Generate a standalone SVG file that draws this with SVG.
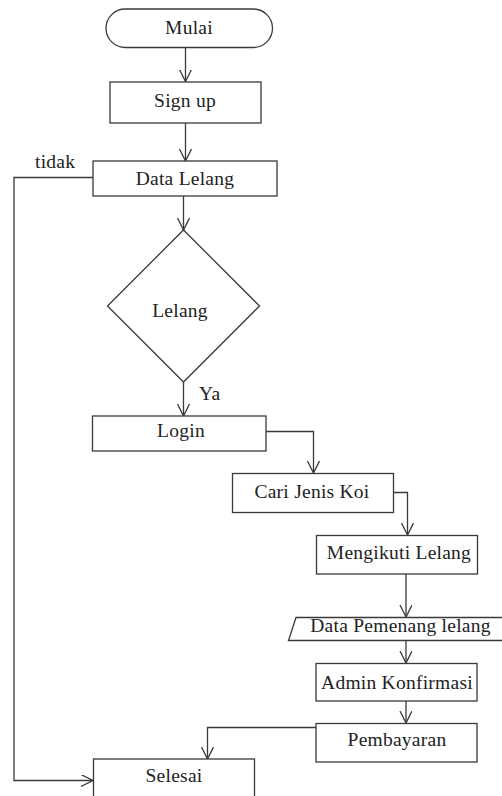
<svg xmlns="http://www.w3.org/2000/svg" width="502" height="796" viewBox="0 0 502 796">
<style>
.n{fill:#fff;stroke:#3a3a3a;stroke-width:1.3}
.t{font-family:"Liberation Serif","Times New Roman",serif;font-size:19.5px;letter-spacing:0.25px;fill:#222;text-anchor:middle}
.l{font-family:"Liberation Serif","Times New Roman",serif;font-size:19.5px;letter-spacing:0.25px;fill:#222}
.c{fill:none;stroke:#3a3a3a;stroke-width:1.3}
</style>
<defs>
<marker id="a" markerUnits="userSpaceOnUse" markerWidth="14" markerHeight="14" refX="12" refY="6" orient="auto">
<path d="M0,0 L12,6 L0,12" fill="none" stroke="#3a3a3a" stroke-width="1.3"/>
</marker>
</defs>
<rect width="502" height="796" fill="#fff"/>
<g id="connectors">
<path class="c" d="M185.5,48 V81.5" marker-end="url(#a)"/>
<path class="c" d="M185.5,123 V161" marker-end="url(#a)"/>
<path class="c" d="M183.5,196 V230" marker-end="url(#a)"/>
<path class="c" d="M183.5,382 V416" marker-end="url(#a)"/>
<path class="c" d="M266,431.5 H313.5 V473" marker-end="url(#a)"/>
<path class="c" d="M393,492.5 H407.5 V535" marker-end="url(#a)"/>
<path class="c" d="M406,574 V617" marker-end="url(#a)"/>
<path class="c" d="M406,640 V663" marker-end="url(#a)"/>
<path class="c" d="M406,701 V723" marker-end="url(#a)"/>
<path class="c" d="M316,727.5 H207.5 V759" marker-end="url(#a)"/>
<path class="c" d="M93,177.5 H14 V780.5 H93" marker-end="url(#a)"/>
</g>
<g id="mulai"><rect class="n" x="106" y="9" width="166.5" height="38.5" rx="19.25"/><text class="t" x="189" y="34">Mulai</text></g>
<g id="signup"><rect class="n" x="110" y="82" width="151" height="41"/><text class="t" x="185" y="107">Sign up</text></g>
<g id="datalelang"><rect class="n" x="93" y="161" width="184" height="35"/><text class="t" x="185" y="185">Data Lelang</text></g>
<g id="lelang"><polygon class="n" points="183.5,230 259.5,306 183.5,382 107.5,306"/><text class="t" x="180" y="317">Lelang</text></g>
<g id="login"><rect class="n" x="92.5" y="416" width="173.5" height="35"/><text class="t" x="181" y="437">Login</text></g>
<g id="cari"><rect class="n" x="232.5" y="473.5" width="161" height="39"/><text class="t" x="312" y="498">Cari Jenis Koi</text></g>
<g id="mengikuti"><rect class="n" x="316.5" y="535.5" width="161" height="38.5"/><text class="t" x="399" y="558.5">Mengikuti Lelang</text></g>
<g id="pemenang"><polygon class="n" points="296,617.5 512,617.5 505,640.5 288.5,640.5"/><text class="t" x="400.5" y="632">Data Pemenang lelang</text></g>
<g id="admin"><rect class="n" x="316" y="663.5" width="161" height="37.5"/><text class="t" x="397" y="688.5">Admin Konfirmasi</text></g>
<g id="pembayaran"><rect class="n" x="316" y="723.5" width="161" height="38.5"/><text class="t" x="397" y="746">Pembayaran</text></g>
<g id="selesai"><rect class="n" x="93.5" y="759" width="161" height="50"/><text class="t" x="174" y="782">Selesai</text></g>
<g id="labels"><text class="l" x="35" y="168">tidak</text><text class="l" x="199" y="400">Ya</text></g>
</svg>
